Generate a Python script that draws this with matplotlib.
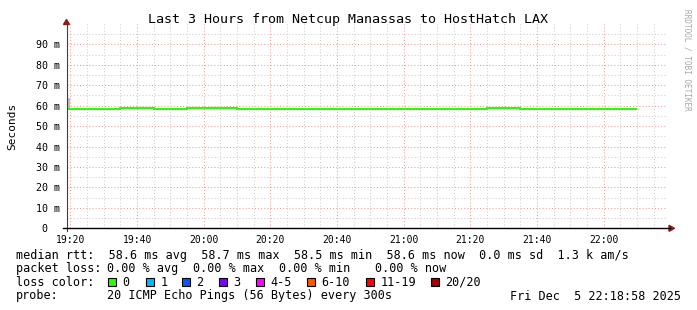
import matplotlib
matplotlib.use('Agg')
import matplotlib.pyplot as plt
from matplotlib.lines import Line2D
from matplotlib.patches import Polygon, Rectangle

W, H = 697, 310
MONO = 'DejaVu Sans Mono'

title = "Last 3 Hours from Netcup Manassas to HostHatch LAX"
y_label = "Seconds"
watermark = "RRDTOOL / TOBI OETIKER"

# time window (graph start / end)
t_start = "19:18:58"
t_end = "22:18:58"

# 5-minute RRD slots (start times) and end of last slot
slot_times = ["19:15", "19:20", "19:25", "19:30", "19:35", "19:40", "19:45",
              "19:50", "19:55", "20:00", "20:05", "20:10", "20:15", "20:20",
              "20:25", "20:30", "20:35", "20:40", "20:45", "20:50", "20:55",
              "21:00", "21:05", "21:10", "21:15", "21:20", "21:25", "21:30",
              "21:35", "21:40", "21:45", "21:50", "21:55", "22:00", "22:05"]
slot_end = "22:10"

median_ms = [58.5, 58.5, 58.5, 58.5, 58.8, 58.8, 58.5,
             58.5, 58.8, 58.8, 58.8, 58.5, 58.5, 58.5,
             58.5, 58.5, 58.5, 58.5, 58.5, 58.5, 58.5,
             58.5, 58.5, 58.5, 58.5, 58.5, 58.8, 58.8,
             58.5, 58.5, 58.5, 58.5, 58.5, 58.5, 58.6]
smoke_max_ms = [63.7, 58.5, 58.5, 58.5, 58.8, 58.8, 58.5,
                58.5, 58.8, 58.8, 58.8, 58.5, 58.5, 58.5,
                58.5, 58.5, 58.5, 58.5, 58.5, 58.5, 58.5,
                58.5, 58.5, 58.5, 58.5, 58.5, 58.8, 58.8,
                58.5, 58.5, 58.5, 58.5, 58.5, 58.5, 58.6]

x_tick_labels = ["19:20", "19:40", "20:00", "20:20", "20:40",
                 "21:00", "21:20", "21:40", "22:00"]
y_ticks_ms = [0, 10, 20, 30, 40, 50, 60, 70, 80, 90]
y_tick_labels = ["0  ", "10 m", "20 m", "30 m", "40 m", "50 m",
                 "60 m", "70 m", "80 m", "90 m"]

row_rtt = "median rtt:  58.6 ms avg  58.7 ms max  58.5 ms min  58.6 ms now  0.0 ms sd  1.3 k am/s"
row_loss_label = "packet loss:"
row_loss_parts = ["0.00 % avg", "0.00 % max", "0.00 % min", "0.00 % now"]
loss_label = "loss color:"
loss_names = ["0", "1", "2", "3", "4-5", "6-10", "11-19", "20/20"]
loss_colors = ["#26ff00", "#00b8ff", "#0059ff", "#7e00ff",
               "#ff00ff", "#ff5500", "#ff0000", "#a10000"]
probe_label = "probe:"
probe_text = "20 ICMP Echo Pings (56 Bytes) every 300s"
date_text = "Fri Dec  5 22:18:58 2025"


def tmin(s):
    p = [float(v) for v in s.split(":")]
    m = p[0] * 60 + p[1]
    if len(p) > 2:
        m += p[2] / 60.0
    return m


def fx(x):
    return x / W


def fy(y):
    return 1 - y / H


fig = plt.figure(figsize=(W / 100, H / 100), dpi=100)
fig.patch.set_facecolor('white')

ax_top, ax_bot, ax_left, ax_right = 23.9, 228.3, 67.0, 667.0
ax = fig.add_axes([fx(ax_left), fy(ax_bot), (ax_right - ax_left) / W,
                   (ax_bot - ax_top) / H])
ax.set_facecolor('white')
x0, x1 = tmin(t_start), tmin(t_end)
ax.set_xlim(x0, x1)
ax.set_ylim(0, 100)
for s in ax.spines.values():
    s.set_visible(False)

# grid
minor_col = '#cfcfcf'
major_col = '#f59a9a'
dot = (0, (1, 2))
for v in range(5, 100, 5):
    if v % 10:
        ax.axhline(v, color=minor_col, lw=0.75, ls=dot, zorder=1)
m = tmin("19:20")
while m < x1:
    if (m - tmin("19:20")) % 20:
        ax.axvline(m, color=minor_col, lw=0.75, ls=dot, zorder=1)
    m += 5
for v in y_ticks_ms[1:]:
    ax.axhline(v, color=major_col, lw=0.75, ls=dot, zorder=2)
x_ticks = [tmin(s) for s in x_tick_labels]
for t in x_ticks:
    ax.axvline(t, color=major_col, lw=0.75, ls=dot, zorder=2)

# data
edges = [tmin(s) for s in slot_times] + [tmin(slot_end)]
ax.stairs(smoke_max_ms, edges, baseline=median_ms, fill=True,
          color='#bdbdbd', zorder=3)
ax.stairs(median_ms, edges, baseline=None, color='#26ff00', lw=1.5, zorder=4)

# ticks
ax.set_xticks(x_ticks)
ax.set_xticklabels(x_tick_labels, fontsize=7, family=MONO)
ax.set_yticks(y_ticks_ms)
ax.set_yticklabels(y_tick_labels, fontsize=7.2, family=MONO)
ax.tick_params(axis='x', length=0, pad=4.5)
ax.tick_params(axis='y', length=0, pad=5)

# axis lines + arrows
fig.add_artist(Line2D([fx(66.5), fx(66.5)], [fy(231), fy(22)], color='#404040', lw=0.8))
fig.add_artist(Line2D([fx(63), fx(670)], [fy(228.3), fy(228.3)], color='black', lw=1.0))
arrow_col = '#8b1a1a'
fig.add_artist(Polygon([[fx(63.5), fy(24.5)], [fx(69.5), fy(24.5)], [fx(66.5), fy(19.5)]],
                       closed=True, color=arrow_col))
fig.add_artist(Polygon([[fx(669), fy(225.3)], [fx(669), fy(231.3)], [fx(674.5), fy(228.3)]],
                       closed=True, color=arrow_col))

# texts
fig.text(fx(348), fy(19), title, ha='center', va='center', fontsize=9.6, family=MONO)
fig.text(fx(12), fy(126), y_label, ha='center', va='center', rotation=90,
         fontsize=8, family=MONO)
fig.text(fx(687), fy(60), watermark, ha='center', va='center', rotation=270,
         fontsize=5.6, family=MONO, color='#a8a8a8')

fs = 8.5
fig.text(fx(16), fy(255), row_rtt, ha='left', va='center', fontsize=fs, family=MONO)
fig.text(fx(16), fy(268.5), row_loss_label, ha='left', va='center', fontsize=fs, family=MONO)
for xp, s in zip([107, 193, 279, 375], row_loss_parts):
    fig.text(fx(xp), fy(268.5), s, ha='left', va='center', fontsize=fs, family=MONO)
fig.text(fx(16), fy(282), loss_label, ha='left', va='center', fontsize=fs, family=MONO)
sw_x = [108, 146, 182, 219, 256, 307, 366, 431]
for xp, name, col in zip(sw_x, loss_names, loss_colors):
    fig.add_artist(Rectangle((fx(xp), fy(285.5)), 8 / W, 8 / H, facecolor=col,
                             edgecolor='black', lw=0.8))
    fig.text(fx(xp + 14.5), fy(282), name, ha='left', va='center', fontsize=fs, family=MONO)
fig.text(fx(16), fy(296), probe_label, ha='left', va='center', fontsize=fs, family=MONO)
fig.text(fx(107), fy(296), probe_text, ha='left', va='center', fontsize=fs, family=MONO)
fig.text(fx(681), fy(296), date_text, ha='right', va='center', fontsize=fs, family=MONO)

fig.savefig('out.png', dpi=100)
